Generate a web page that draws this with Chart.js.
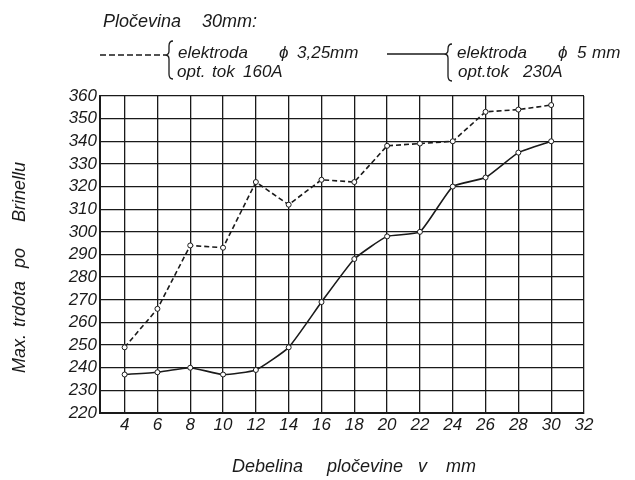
<!DOCTYPE html>
<html>
<head>
<meta charset="utf-8">
<script src="https://cdn.jsdelivr.net/npm/chart.js@4/dist/chart.umd.min.js"></script>
<style>
  html, body { margin: 0; padding: 0; background: #fff; }
  #wrap { width: 635px; height: 480px; position: relative; }
</style>
</head>
<body>
<div id="wrap"><canvas id="myChart" width="635" height="480"></canvas></div>
<script>
// debelina plocevine (mm)
const thickness = [4, 6, 8, 10, 12, 14, 16, 18, 20, 22, 24, 26, 28, 30];
// elektroda 3,25 mm, opt. tok 160 A (crtkano)
const hardness325 = [249, 266, 294, 293, 322, 312, 323, 322, 338, 339, 340, 353, 354, 356];
// elektroda 5 mm, opt. tok 230 A (polna crta)
const hardness5 = [237, 238, 240, 237, 239, 249, 269, 288, 298, 300, 320, 324, 335, 340];
const xTicks = [4, 6, 8, 10, 12, 14, 16, 18, 20, 22, 24, 26, 28, 30, 32];
const yTicks = [220, 230, 240, 250, 260, 270, 280, 290, 300, 310, 320, 330, 340, 350, 360];

const FONT = '"Liberation Sans", "DejaVu Sans", sans-serif';
const INK = '#1a1a1a';

const toPoints = (ys) => thickness.map((x, i) => ({ x: x, y: ys[i] }));

function brace(ctx, x, yTop, yBot, yMid) {
  ctx.beginPath();
  ctx.moveTo(x + 7, yTop);
  ctx.quadraticCurveTo(x + 3, yTop, x + 3, yTop + 5);
  ctx.lineTo(x + 3, yMid - 4);
  ctx.quadraticCurveTo(x + 3, yMid, x - 1, yMid);
  ctx.quadraticCurveTo(x + 3, yMid, x + 3, yMid + 4);
  ctx.lineTo(x + 3, yBot - 5);
  ctx.quadraticCurveTo(x + 3, yBot, x + 7, yBot);
  ctx.stroke();
}

// naslov, legenda in naslova osi
const textPlugin = {
  id: 'texts',
  afterDraw(chart) {
    const ctx = chart.ctx;
    ctx.save();
    ctx.fillStyle = INK;
    ctx.strokeStyle = INK;
    ctx.textBaseline = 'middle';

    ctx.font = 'italic 18px ' + FONT;
    ctx.fillText('Pločevina', 103, 22);
    ctx.fillText('30mm:', 202, 22);

    ctx.font = 'italic 17px ' + FONT;
    // crtkana
    ctx.lineWidth = 1.3;
    ctx.setLineDash([6, 3]);
    ctx.beginPath(); ctx.moveTo(100, 55); ctx.lineTo(165, 55); ctx.stroke();
    ctx.setLineDash([]);
    brace(ctx, 166, 41, 79, 55);
    ctx.fillText('elektroda', 178, 53);
    ctx.fillText('ϕ', 279, 53);
    ctx.fillText('3,25mm', 297, 53);
    ctx.fillText('opt.', 177, 72);
    ctx.fillText('tok', 212, 72);
    ctx.fillText('160A', 243, 72);

    // polna
    ctx.beginPath(); ctx.moveTo(387, 54); ctx.lineTo(444, 54); ctx.stroke();
    brace(ctx, 445, 44, 81, 54);
    ctx.fillText('elektroda', 457, 53);
    ctx.fillText('ϕ', 558, 53);
    ctx.fillText('5', 577, 53);
    ctx.fillText('mm', 592, 53);
    ctx.fillText('opt.tok', 458, 72);
    ctx.fillText('230A', 523, 72);

    // naslov osi x
    ctx.font = 'italic 18px ' + FONT;
    ctx.fillText('Debelina', 232, 467);
    ctx.fillText('pločevine', 327, 467);
    ctx.fillText('v', 418, 467);
    ctx.fillText('mm', 446, 467);

    // naslov osi y
    ctx.translate(20, 0);
    ctx.rotate(-Math.PI / 2);
    ctx.fillText('Max.', -373, 0);
    ctx.fillText('trdota', -327, 0);
    ctx.fillText('po', -268, 0);
    ctx.fillText('Brinellu', -222, 0);
    ctx.restore();
  }
};

new Chart(document.getElementById('myChart').getContext('2d'), {
  type: 'line',
  data: {
    datasets: [
      {
        label: 'elektroda ϕ 3,25mm, opt. tok 160A',
        data: toPoints(hardness325),
        borderColor: INK,
        borderWidth: 1.6,
        borderDash: [5, 3],
        pointRadius: 2.5,
        pointBackgroundColor: '#fff',
        pointBorderColor: INK,
        pointBorderWidth: 1,
        tension: 0
      },
      {
        label: 'elektroda ϕ 5 mm, opt.tok 230A',
        data: toPoints(hardness5),
        borderColor: INK,
        borderWidth: 1.6,
        pointRadius: 2.5,
        pointBackgroundColor: '#fff',
        pointBorderColor: INK,
        pointBorderWidth: 1,
        tension: 0.15
      }
    ]
  },
  options: {
    responsive: false,
    animation: false,
    layout: { padding: { left: 0, top: 96, right: 51, bottom: 0 } },
    plugins: { legend: { display: false }, tooltip: { enabled: false } },
    scales: {
      x: {
        type: 'linear',
        min: 2.5,
        max: 32,
        afterBuildTicks: (axis) => { axis.ticks = xTicks.map(v => ({ value: v })); },
        afterFit: (axis) => { axis.height = 67; },
        grid: { color: INK, lineWidth: 1.3, drawTicks: false },
        border: { color: INK, width: 2 },
        ticks: { color: INK, padding: 2, maxRotation: 0, autoSkip: false, font: { family: FONT, style: 'italic', size: 17 } },
        title: { display: false }
      },
      y: {
        min: 220,
        max: 360,
        afterBuildTicks: (axis) => { axis.ticks = yTicks.map(v => ({ value: v })); },
        afterFit: (axis) => { axis.width = 100; },
        grid: { color: INK, lineWidth: 1.3, drawTicks: false },
        border: { color: INK, width: 2 },
        ticks: { color: INK, padding: 3, autoSkip: false, font: { family: FONT, style: 'italic', size: 17 } },
        title: { display: false }
      }
    }
  },
  plugins: [textPlugin]
});
</script>
</body>
</html>
